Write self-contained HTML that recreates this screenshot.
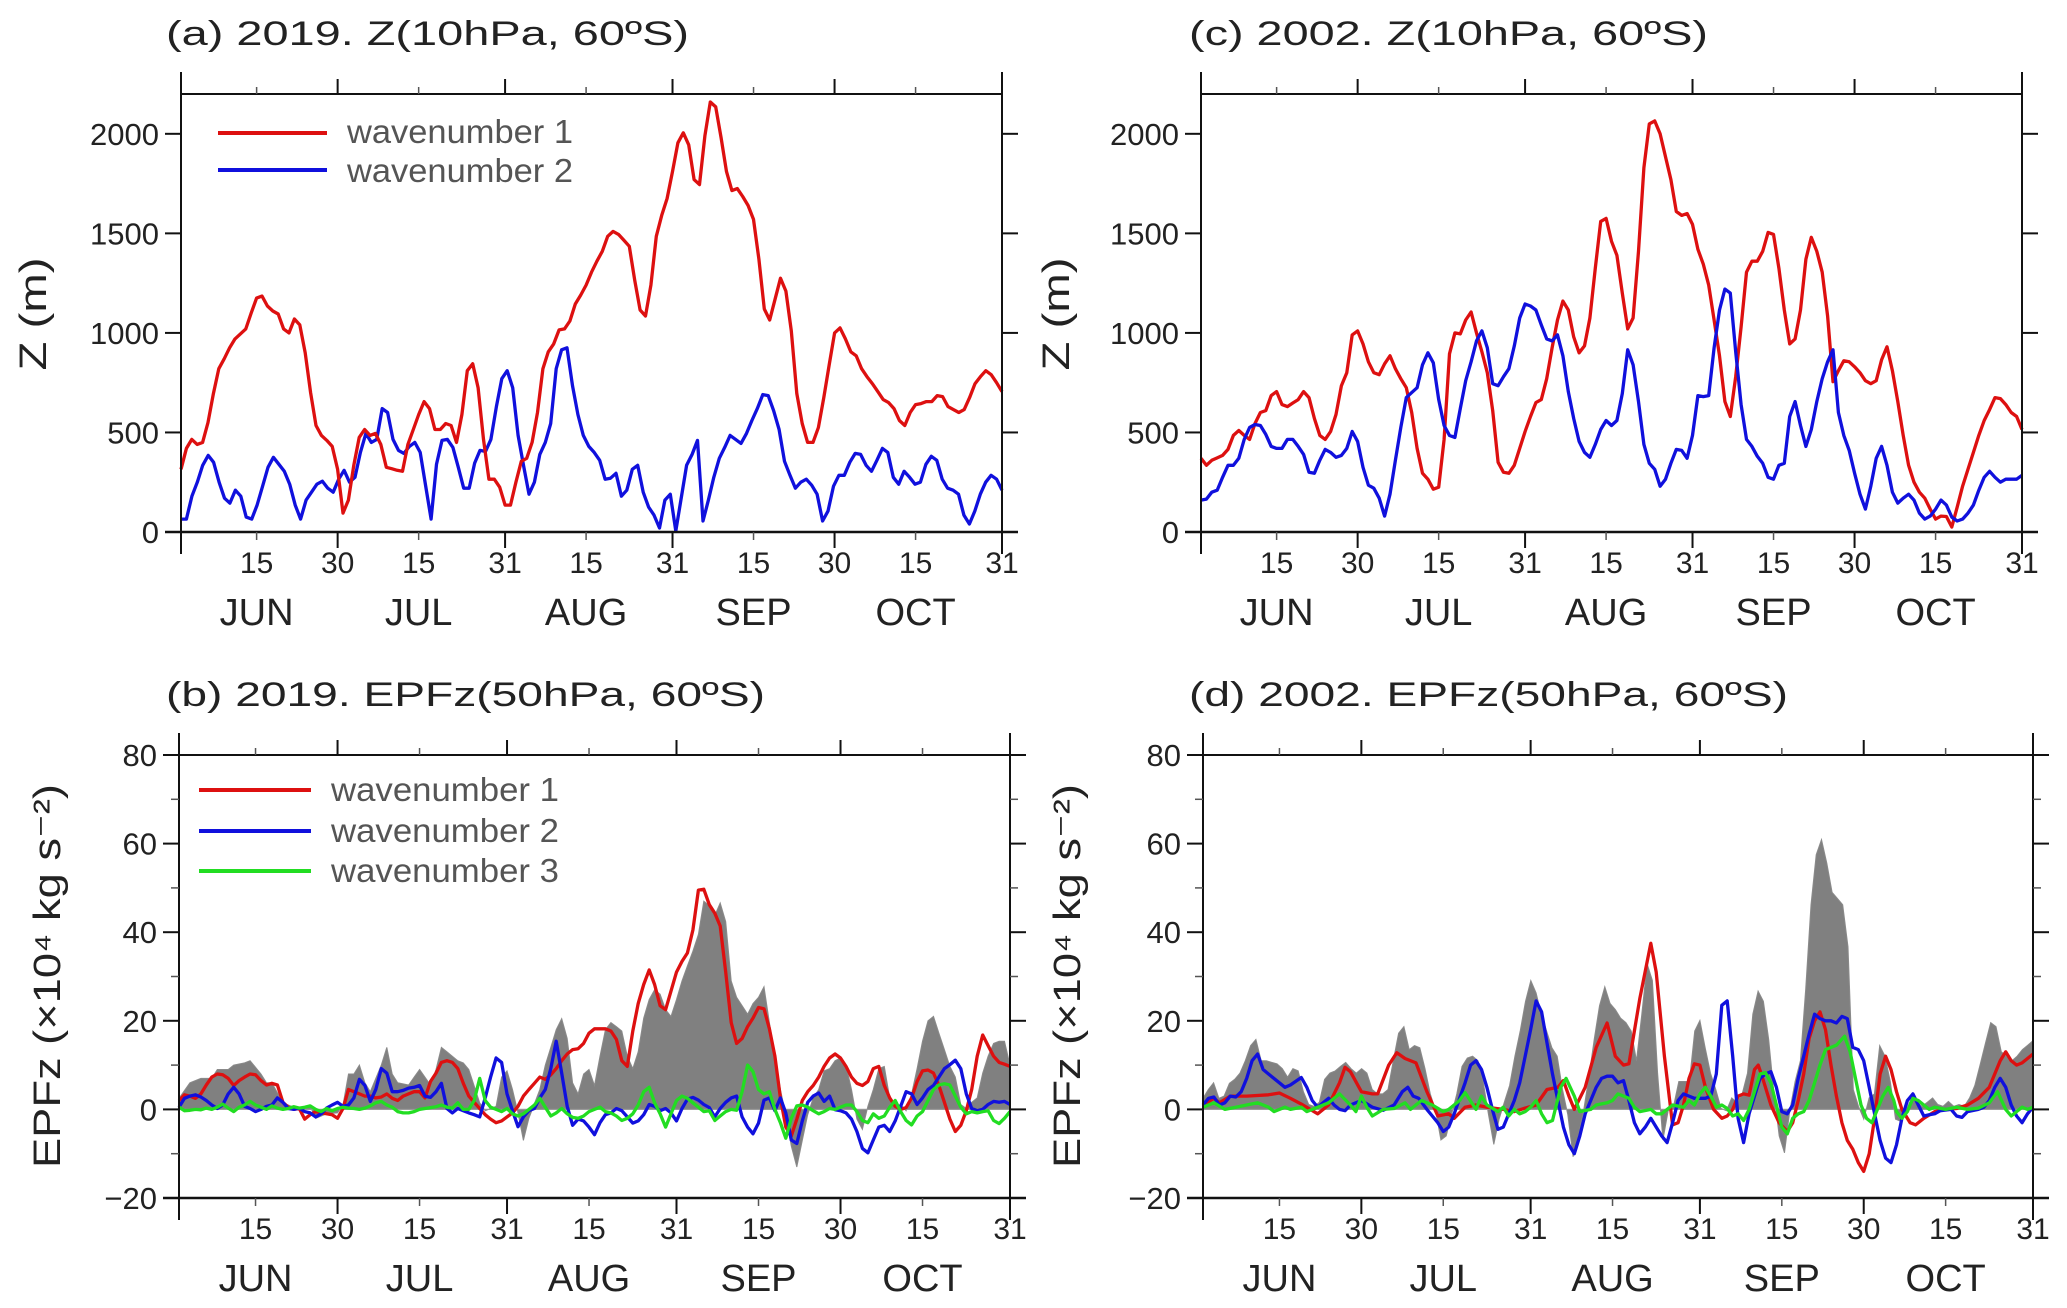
<!DOCTYPE html>
<html><head><meta charset="utf-8"><title>Z and EPFz wavenumber time series</title>
<style>
html,body{margin:0;padding:0;background:#fff;}
svg{display:block;font-family:"Liberation Sans",sans-serif;}
</style></head>
<body>
<svg id="fig" xmlns="http://www.w3.org/2000/svg" width="2067" height="1308" viewBox="0 0 2067 1308">
<rect x="0" y="0" width="2067" height="1308" fill="#fff"/>
<text x="166" y="45" font-size="34" fill="#222" textLength="523" lengthAdjust="spacingAndGlyphs">(a) 2019. Z(10hPa, 60ºS)</text>
<text x="1189" y="45" font-size="34" fill="#222" textLength="519" lengthAdjust="spacingAndGlyphs">(c) 2002. Z(10hPa, 60ºS)</text>
<text x="166" y="706" font-size="34" fill="#222" textLength="599" lengthAdjust="spacingAndGlyphs">(b) 2019. EPFz(50hPa, 60ºS)</text>
<text x="1189" y="706" font-size="34" fill="#222" textLength="599" lengthAdjust="spacingAndGlyphs">(d) 2002. EPFz(50hPa, 60ºS)</text>
<text transform="translate(46,314) rotate(-90)" text-anchor="middle" font-size="38" fill="#222" textLength="113" lengthAdjust="spacingAndGlyphs">Z (m)</text>
<text transform="translate(1069,314) rotate(-90)" text-anchor="middle" font-size="38" fill="#222" textLength="113" lengthAdjust="spacingAndGlyphs">Z (m)</text>
<text transform="translate(60,976) rotate(-90)" text-anchor="middle" font-size="38" fill="#222" textLength="384" lengthAdjust="spacingAndGlyphs">EPFz (×10⁴ kg s⁻²)</text>
<text transform="translate(1080,976) rotate(-90)" text-anchor="middle" font-size="38" fill="#222" textLength="384" lengthAdjust="spacingAndGlyphs">EPFz (×10⁴ kg s⁻²)</text>
<g id="layer"></g>
<g>
<line x1="218" y1="133" x2="327" y2="133" stroke="#dd1010" stroke-width="4"/>
<text x="347" y="143" font-size="33" fill="#555" textLength="226" lengthAdjust="spacingAndGlyphs">wavenumber 1</text>
<line x1="218" y1="170" x2="327" y2="170" stroke="#1010dd" stroke-width="4"/>
<text x="347" y="182" font-size="33" fill="#555" textLength="226" lengthAdjust="spacingAndGlyphs">wavenumber 2</text>
</g>
<g>
<line x1="199" y1="790" x2="311" y2="790" stroke="#dd1010" stroke-width="4"/>
<text x="331" y="801" font-size="33" fill="#555" textLength="228" lengthAdjust="spacingAndGlyphs">wavenumber 1</text>
<line x1="199" y1="831" x2="311" y2="831" stroke="#1010dd" stroke-width="4"/>
<text x="331" y="842" font-size="33" fill="#555" textLength="228" lengthAdjust="spacingAndGlyphs">wavenumber 2</text>
<line x1="199" y1="871" x2="311" y2="871" stroke="#22dd22" stroke-width="4"/>
<text x="331" y="882" font-size="33" fill="#555" textLength="228" lengthAdjust="spacingAndGlyphs">wavenumber 3</text>
</g>
</svg>
<script>
// ---------- data ----------
const monthNames = ["JUN","JUL","AUG","SEP","OCT"];
const midDays = [14,44,75,106,136];
const endDays = [29,60,91,121,152];
const endLabels = ["30","31","31","30","31"];
const zTicks = [0,500,1000,1500,2000];
const epTicks = [-20,0,20,40,60,80];
const epMinor = [-10,10,30,50,70];

const aRed = [315,420,465,440,450,550,695,820,870,925,970,995,1020,1100,1175,1185,1135,1110,1095,1020,1000,1070,1040,900,700,535,485,460,430,315,95,160,335,475,515,485,495,440,325,318,310,305,440,515,590,655,620,515,515,545,535,450,590,810,845,725,465,265,265,225,135,135,250,355,370,450,600,820,905,945,1015,1020,1060,1145,1190,1240,1305,1360,1410,1485,1510,1495,1465,1435,1265,1115,1085,1240,1485,1590,1675,1810,1955,2005,1945,1770,1745,1990,2160,2135,1980,1810,1715,1725,1685,1640,1570,1370,1120,1065,1170,1275,1210,1010,695,545,450,450,525,675,840,1000,1025,970,905,885,820,780,745,705,665,650,620,560,535,600,640,645,655,655,685,680,630,615,600,615,675,745,780,810,790,750,705];
const aBlue = [65,65,180,250,335,385,350,250,170,145,210,180,75,65,135,230,325,375,340,305,240,135,65,160,200,240,255,220,200,265,310,250,275,400,495,450,465,620,600,465,410,395,430,450,400,230,65,340,460,465,425,325,220,220,345,410,405,465,630,770,810,725,485,335,190,250,390,450,545,820,915,925,735,590,485,430,400,360,265,270,295,180,210,315,335,200,125,85,20,160,190,5,170,335,390,460,55,160,275,370,425,485,465,445,495,560,620,690,685,610,515,355,285,220,250,265,235,190,55,105,230,285,285,350,395,390,335,305,360,420,400,275,240,305,275,240,250,340,380,360,265,220,210,190,85,40,105,190,250,285,265,210];
const cRed = [370,335,360,372,385,415,485,510,485,465,545,600,610,685,705,640,630,648,665,705,675,570,485,465,505,590,735,800,990,1010,945,855,800,790,845,885,820,770,725,600,420,295,265,215,225,465,895,1000,995,1065,1105,1000,905,800,610,350,300,295,335,420,505,580,650,665,770,925,1065,1160,1115,980,900,935,1075,1325,1560,1575,1460,1390,1200,1020,1075,1410,1830,2050,2065,2000,1885,1770,1610,1590,1600,1545,1420,1345,1240,1065,885,655,580,780,1030,1305,1360,1360,1410,1505,1495,1325,1115,945,970,1115,1370,1480,1410,1305,1085,755,810,860,855,830,800,760,745,760,865,930,810,655,485,335,250,200,170,115,65,80,78,25,125,230,315,400,485,560,615,675,670,640,600,580,515];
const cBlue = [160,165,200,210,275,335,335,370,465,525,540,535,490,430,420,420,465,465,430,390,300,295,360,415,400,375,385,420,505,455,325,235,220,170,80,190,360,525,675,700,725,840,900,850,665,535,485,475,620,760,855,960,1010,925,745,735,780,820,935,1075,1145,1135,1115,1040,970,960,990,885,705,570,455,400,375,440,515,560,535,560,695,915,840,655,440,345,315,230,265,345,415,410,370,485,685,680,685,925,1115,1220,1200,905,640,465,430,380,345,275,265,335,345,580,655,535,430,515,655,770,855,915,600,485,410,295,190,115,230,370,430,335,200,145,170,190,160,95,65,80,115,160,135,75,55,65,95,135,210,275,305,275,250,265,265,265,285];

const bRed = [2,3.3,3,2.5,3.5,5.5,7.3,8,7.8,7,5.4,6.5,7.3,8,7.8,6.5,5.5,5.9,5.5,1.6,0.5,0,0.2,-2.2,-1.2,-0.5,-0.8,-1,-1.2,-2,0.2,4.5,4,3.5,3,3,2.6,2.8,3.5,2.5,2,3,3.5,4,4,2.6,6.3,8.2,10.6,11,10.6,9.2,5.9,3,1.6,0.2,-1.2,-2.2,-3,-2.6,-1.7,-0.8,0.7,3,4.5,5.9,7.3,6.8,7.8,9.2,11,12.5,13.5,13.7,14.9,17.2,18.2,18.2,18.2,17.7,15.8,11,9.7,17.7,23.9,28.2,31.5,28.2,23.4,22.5,26.7,31,33.4,35.3,40.5,49.5,49.7,46.2,44.3,41.4,31,19.6,14.9,16,18.7,20.6,23,22.7,18.2,12,2.6,-4,-6,-2.2,2,4,5.4,7.3,9.7,11.6,12.5,11.6,9.7,7.3,5.9,5.4,6.3,9.2,9.7,5.4,2.6,0.7,0,0.4,2.6,6.3,8.7,8.9,8.2,5.4,1.6,-2.2,-5,-3.6,-0.3,4.5,12,16.8,14.4,12,10.6,10.2,9.7];
const bBlue = [0.5,2.5,3,3.3,2.8,2,1,0.2,1,3.5,5,3.5,0.7,0.2,-0.5,0,0.7,1,2.6,1.6,0.2,0,0.3,-0.5,-0.8,-1.7,-1,0.3,1,1.6,0.7,1,2.6,6.8,5.4,1.8,4.5,9.2,8.2,4,4,4.3,4.8,5,5.4,3,2.7,4,5.9,0.2,-0.8,0.2,-0.3,-0.8,-1.2,-1.7,2.6,7.3,11.6,10.6,3.5,-0.3,-3.9,-1.7,-0.3,0.2,2.6,4.5,9.2,15.4,8.2,0.7,-3.6,-2.2,-2.6,-4,-5.7,-3,-1.2,-0.8,0.2,-0.3,-1.7,-3.1,-2.6,-1.2,1.1,0.7,-0.3,0.2,-0.8,-2.6,0.2,2.3,2.7,2.1,1.1,0.4,-1.7,0.2,1.6,2.6,3,-1.7,-4,-5.5,-3.1,2.1,2.6,-0.3,2.6,-0.8,-6.9,-7.7,-2.6,1.6,3,3.7,1.8,3,-0.1,-0.3,-0.8,-2.2,-5,-8.8,-9.8,-6.9,-4,-3.6,-5,-2.6,0.7,4,3.5,1.1,2.6,4.5,5.4,7.3,9.2,10.1,11.1,9.2,3.5,0.2,-0.3,0,1.1,1.8,1.6,1.8,1.1];
const bGreen = [0.5,-0.3,-0.2,0,-0.1,0.3,0,0.5,1.2,0.3,-0.5,0.5,1,1.8,1,0.5,0,0.8,0.3,0,0.2,0.6,0.3,0.5,0.8,0,-0.5,0.2,-0.3,0.2,0.5,0.3,0.2,0,0.3,0.8,1.5,1.8,1,0.5,-0.5,-0.8,-0.8,-0.5,0,0.2,0.4,0.6,1,0.5,0.3,1.5,0,0,2,7,2,0.5,0,-0.5,0.2,-1,-1.5,-1,0,1,2.5,0.5,-1.5,-0.8,0.2,-1,-1.8,-2,-1.5,-0.5,0,0.5,-0.5,-0.8,-1.5,-2.5,-2,-1,1,4,5,1.5,-1,-4,-1,2,3,2.5,1.5,0.5,-0.5,-0.3,-2.5,-1.5,-0.5,0,-0.2,4,10,8.5,4.5,3.5,4,0,-3,-6.5,-2,0.8,1,0.5,-0.3,-1,-0.5,0.2,0,0.5,1,1,-0.5,-2.5,-3,-1,-2,-1.5,0.5,2,-0.5,-2.5,-3.5,-1.5,-0.5,2,4.5,5.5,5.8,5.5,3,0.5,-1,-0.5,-0.8,-0.5,-0.3,-2.5,-3.2,-2,-0.5];
const bTotalDays = [0,2,4,6,7,9,10,12,13,15,16,17,19,21,23,24,25,27,29,30,31,32,33,34,35,37,38,39,40,42,43,44,46,47,48,49,51,52,53,55,56,58,59,60,61,62,63,64,66,67,68,69,70,71,72,73,74,75,76,77,78,79,80,81,82,83,84,85,86,87,88,89,90,91,92,93,94,95,96,97,98,99,100,101,102,103,104,105,106,107,108,109,110,111,112,113,114,115,116,117,118,119,120,121,122,123,124,125,126,127,128,129,130,131,132,133,134,135,136,137,138,139,140,141,142,143,144,145,146,147,148,149,150,151,152];
const bTotal = [2.5,6,7,7,9,9,10,10.5,11,8,6,6,1.5,0.5,0.2,0.7,-2,-1,-0.8,1,8,8,10,6,4,10,14,8,6,5.5,7.3,9,5.5,9,14,13,11,10.5,9,1.5,-0.3,0.7,7.3,8.7,4.5,-0.8,-7,-2,4.5,10,14,18,20.5,16,6,3.5,8,9,5.4,12,18,19.6,18.7,17.7,12,9.2,13,20.6,24.8,27,26,22.5,21,24.8,29,32.4,35.7,39.5,47,46,43.8,46.6,42.4,29,25.3,23.4,21.5,23.9,25.3,27.7,19.6,12,4.5,-1.2,-8.3,-13,-7,-1.2,2.6,4.5,8.7,9.2,11,11.6,10,4.5,-2.2,-4.5,0.7,4.5,9.2,9.7,2.6,0.7,1.1,-0.3,3.5,9.2,15.4,20,21,17.2,13.5,9.7,7.3,1.1,0.2,1.6,2.6,8.2,12,14.9,15.4,15.4,10];

const dRedDays = [0,2,3,5,8,12,14,16,18,21,23,25,26,27,29,31,32,34,35.5,37,39,41,43,45,46,48,50,52,55,57,59,61,63,65,66,67,68,70,72,74,75.5,77,78,80,82,83,84.5,86,87,88,89,90,91,92,93.5,95,96,97,98,99,100,101,101.7,102.5,104,105.5,107,108,109,110,111,112,113,114,115,116,117,118,119,120,121,122,123,124,125,126,127,128,129.5,130.5,132,134,136,138,140,142,144,146,147,148,149,150,152];
const dRed = [1,2.5,1.5,3,3,3.3,3.7,2.5,1.2,-1,1,6,9.5,8.5,4,3.5,3.5,10,12.8,11.5,10.5,4,-1.5,-1,-2,0.5,1,0.5,0,-0.5,0.3,1,4.5,5,6.5,3,0,5,14,19.5,12,10,10.3,25,37.5,31,12,-3.5,-3,1,7,10.3,10,5,0,-2,-1.5,0,3,3.5,3.2,9,10,7,1,-3,-5,-3,2,8,16,20,22,18,10,3,-3,-7,-9,-12,-14,-10,-2,8,12,9,4,0,-3,-3.5,-2,-0.5,0,0.2,1,2.5,5,11,13,11,10,10.5,12.5];
const dBlueDays = [0,1,2,3,4,5,6,7,8,9,10,11,12,14,15,16,18,19,20,21,23,24,25,26,27,29,31,33,35,36.5,37.5,38.5,39.5,41,42,43,44,45,46,47,48,49,50,51,52,53,54,55,56,57,58,59,60,61,62,63,64,65,66,67,68,69,70,71,72,73,74,75,76,77,78,79,80,81,82,83,84,85,86,87,88,89,90,92,93,94,95,96,97,98,99,100,101,102,103,104,105,106,107,108,109,110,111,112,113,114,115,116,117,118,119,120,121,122,123,124,125,126,127,128,129,130,131,132,133,134,135,137,138,139,140,142,143,144,145,146,147,148,149,150,151,152];
const dBlue = [1,2.5,2.8,1,1.5,3,2.8,4,7,11,12.5,9,8,6,5,5.5,7.2,5,2,0.5,2.5,1,0,-0.3,1,2,0.5,-0.2,1,4,5,3,2.5,0,-1.5,-3,-5,-4,-1,2.5,6,10,11,9,5,0,-4.5,-4,-1,2,6,12,18,24.5,22,15,8,2,-4,-8,-10,-6,-1,2,5,7,7.5,7.5,6,6.5,2,-3,-5.5,-4,-2,-4,-6,-7.5,-3,2,3.5,3,2.5,2.5,3,8,23.5,24.5,12,-2,-7.5,-1,3,7,8,8.5,5,-0.5,-1,1,7,12,17,21.5,20.5,20,20,19.5,21,20.5,14,13.5,11,5,-1,-7,-11,-12,-8,-2,2,3.5,1,-1.5,-1.2,-1,-0.3,0,-1.5,-1.8,-0.5,0,0.5,2,5,7,5,1,-1.5,-3,-1,0.5];
const dGreenDays = [0,2,4,6,8,10,12,13,15,16,18,19,21,23,25,27,28,29,30,31,33,35,37,38,40,42,44,45,47,48,50,51,52,54,55,56,57,58,59,60,61,62,63,64,65.5,66.5,68,69,71,72,74,75,76,78,79,80,82,83,84,86,88,89,90,91,92,93,94,95,96,97,98,99,100,101,102,103,104,105,106,107,108,109,110,111,112,113,114,116,117.5,118.5,119.5,120.5,121.5,122.5,123.5,124.5,125.5,126.5,127,128,129,130,131,132,133,134,136,138,140,142,144,145.5,147,148,149,150,151,152];
const dGreen = [0.5,1.5,0,0.5,1,1.5,0.5,-0.5,0.5,0,0.5,-0.5,0.5,1.5,3.5,1,-0.5,3,0.5,-1.5,0,0.2,1.5,0,2,1,-0.5,0,2,3.8,0,3,1,-0.5,0.5,-1.5,0,-1,-0.5,0.5,2,-1,-3,-2.5,5,7,3,-0.5,0,1,1.5,2,3.5,2.5,0.5,-0.5,0,-1,-1,1,0.5,2,1,3.5,5,3,0.5,1,0.2,-1.5,-1,-2.5,0,4,8,8.3,6,1,-4,-5.5,-2,-1,-0.5,2,6,10,13.5,14.5,16.5,13,7,1,-2,-3,0,3,5,2,-0.5,-2,-0.5,2.5,2,1,0,0.5,0,0.5,0,0.3,1.5,4,0,-1.5,-0.5,0.5,0,0.5];
const dTotal = [2.5,4.5,6,2.5,3,5.9,6.8,8.2,11,14.4,15.8,11,11,10.6,10.3,9.2,7.3,9.2,8.7,4,1.1,0.7,1.6,6.8,8.2,8.7,9.7,10.6,9.2,8.2,9.2,8.2,4.5,3.5,3.5,4.5,11,17.2,18.7,13.5,14.4,13.9,9.2,3.5,-0.3,-6.9,-6,-1.2,3.5,9.7,11.6,12,11,6.3,-1.2,-7.9,-2.2,1.6,5.4,12,17.7,24.4,29.1,26.3,21.5,17.7,13.9,12,4.5,-1.2,-10.7,-6,-0.3,7.3,15.8,23.4,27.7,23.9,22.5,20.6,19.6,17.7,11,21.5,32.9,29.1,8.2,-6.9,-0.3,0.7,6.3,6.3,6.3,17.7,20.1,13.9,8.2,4.5,0.2,-0.3,2.6,1.6,3.5,8.2,21.5,26.7,24.4,15.8,3.5,-6,-9.8,-0.3,6.3,11,27.2,46.2,57.5,60.9,55.6,49,47.6,46.2,36.7,4.5,0.7,-2.2,2.6,3.5,14.4,12,6.3,-2.2,-2.7,-0.3,2.6,1.6,0.7,1.6,2.6,1.1,0.7,1.8,0.7,1.1,0.7,2.6,5.4,10.1,14.9,19.6,18.7,13,12,11,12,13.5,14.5,15.5];

// ---------- drawing ----------
const NS = "http://www.w3.org/2000/svg";
const layer = document.getElementById("layer");
function mk(tag, attrs, parent) {
  const el = document.createElementNS(NS, tag);
  for (const k in attrs) el.setAttribute(k, attrs[k]);
  (parent || layer).appendChild(el);
  return el;
}
const NDAY = 152;
function makePanel(id, L, R, T, B, ymin, ymax) {
  const p = {id, L, R, T, B, ymin, ymax};
  p.x = d => L + d / NDAY * (R - L);
  p.y = v => B - (v - ymin) / (ymax - ymin) * (B - T);
  return p;
}
const pa = makePanel("a", 181, 1002, 94, 532, 0, 2200);
const pc = makePanel("c", 1201, 2022, 94, 532, 0, 2200);
const pb = makePanel("b", 179, 1010, 755, 1198, -20, 80);
const pd = makePanel("d", 1203, 2033, 755, 1198, -20, 80);

function seriesPts(p, days, vals) {
  const n = vals.length;
  return vals.map((v, i) => {
    const d = days ? days[i] : i * NDAY / (n - 1);
    return [p.x(d), p.y(v)];
  });
}
function drawLine(p, days, vals, color, name) {
  const pts = seriesPts(p, days, vals);
  const el = mk("polyline", {points: pts.map(q => q[0].toFixed(1) + "," + q[1].toFixed(1)).join(" "), fill: "none", stroke: color, "stroke-width": 3.3, "stroke-linejoin": "round"});
  
  
}
function drawArea(p, days, vals, name) {
  const pts = seriesPts(p, days, vals);
  const y0 = p.y(0);
  let d = "M" + pts[0][0].toFixed(1) + "," + y0.toFixed(1);
  pts.forEach(q => { d += " L" + q[0].toFixed(1) + "," + q[1].toFixed(1); });
  d += " L" + pts[pts.length - 1][0].toFixed(1) + "," + y0.toFixed(1) + " Z";
  const el = mk("path", {d: d, fill: "#808080", stroke: "#8a8a8a", "stroke-width": 1});
  
  
}
function drawAxes(p, yTicks, yMinor) {
  const ax = "#111";
  const top = mk("line", {x1: p.L, y1: p.T, x2: p.R, y2: p.T, stroke: ax, "stroke-width": 2});
  
  
  const bot = mk("line", {x1: p.L - 16, y1: p.B, x2: p.R + 16, y2: p.B, stroke: ax, "stroke-width": 2.5});
  
  
  const lft = mk("line", {x1: p.L, y1: p.T - 22, x2: p.L, y2: p.B + 22, stroke: ax, "stroke-width": 2});
  
  
  const rgt = mk("line", {x1: p.R, y1: p.T - 22, x2: p.R, y2: p.B + 22, stroke: ax, "stroke-width": 2});
  
  
  yTicks.forEach(v => {
    const y = p.y(v);
    const t1 = mk("line", {x1: p.L - 16, y1: y, x2: p.L, y2: y, stroke: ax, "stroke-width": 2});
    
    
    const t2 = mk("line", {x1: p.R, y1: y, x2: p.R + 16, y2: y, stroke: ax, "stroke-width": 2});
    
    
    const lb = mk("text", {x: p.L - 22, y: y + 11, "text-anchor": "end", "font-size": 31, fill: "#222"});
    lb.textContent = (v < 0 ? "\u2212" + Math.abs(v) : String(v));
    
    
  });
  yMinor.forEach(v => {
    const y = p.y(v);
    const t1 = mk("line", {x1: p.L - 8, y1: y, x2: p.L, y2: y, stroke: "#555", "stroke-width": 1.5});
    
    
    const t2 = mk("line", {x1: p.R, y1: y, x2: p.R + 8, y2: y, stroke: "#555", "stroke-width": 1.5});
    
    
  });
  const labY = p.B + 41, monY = p.B + 93;
  endDays.forEach((d, i) => {
    const x = p.x(d);
    const t1 = mk("line", {x1: x, y1: p.B, x2: x, y2: p.B + 16, stroke: ax, "stroke-width": 2});
    
    
    const t2 = mk("line", {x1: x, y1: p.T - 15, x2: x, y2: p.T, stroke: ax, "stroke-width": 2});
    
    
    const lb = mk("text", {x: x, y: labY, "text-anchor": "middle", "font-size": 30, fill: "#222"});
    lb.textContent = endLabels[i];
    
    
  });
  midDays.forEach((d, i) => {
    const x = p.x(d);
    const t1 = mk("line", {x1: x, y1: p.B, x2: x, y2: p.B + 8, stroke: "#555", "stroke-width": 1.5});
    
    
    const t2 = mk("line", {x1: x, y1: p.T - 7, x2: x, y2: p.T, stroke: "#555", "stroke-width": 1.5});
    
    
    const lb = mk("text", {x: x, y: labY, "text-anchor": "middle", "font-size": 30, fill: "#222"});
    lb.textContent = "15";
    
    
    const mn = mk("text", {x: x, y: monY, "text-anchor": "middle", "font-size": 38, fill: "#222"});
    mn.textContent = monthNames[i];
    
    
  });
}

drawArea(pb, bTotalDays, bTotal, "panel-b-total-area");
drawArea(pd, null, dTotal, "panel-d-total-area");
[pb, pd].forEach(p => {
  const z = mk("line", {x1: p.L, y1: p.y(0), x2: p.R, y2: p.y(0), stroke: "#999", "stroke-width": 1});
  
  
});

drawLine(pa, null, aBlue, "#1010dd", "panel-a-wavenumber-2-line");
drawLine(pa, null, aRed, "#dd1010", "panel-a-wavenumber-1-line");
drawLine(pc, null, cRed, "#dd1010", "panel-c-wavenumber-1-line");
drawLine(pc, null, cBlue, "#1010dd", "panel-c-wavenumber-2-line");
drawLine(pb, null, bRed, "#dd1010", "panel-b-wavenumber-1-line");
drawLine(pb, null, bBlue, "#1010dd", "panel-b-wavenumber-2-line");
drawLine(pb, null, bGreen, "#22dd22", "panel-b-wavenumber-3-line");
drawLine(pd, dRedDays, dRed, "#dd1010", "panel-d-wavenumber-1-line");
drawLine(pd, dBlueDays, dBlue, "#1010dd", "panel-d-wavenumber-2-line");
drawLine(pd, dGreenDays, dGreen, "#22dd22", "panel-d-wavenumber-3-line");

drawAxes(pa, zTicks, []);
drawAxes(pc, zTicks, []);
drawAxes(pb, epTicks, epMinor);
drawAxes(pd, epTicks, epMinor);
</script>
</body></html>
